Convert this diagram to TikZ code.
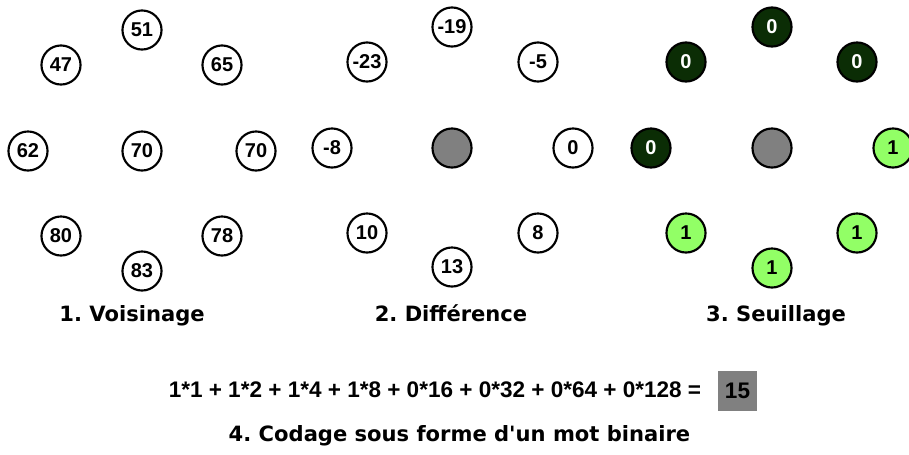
\documentclass[tikz,border=0pt]{standalone}
\usepackage{fontspec}
\setmainfont{Liberation Sans}
\newfontfamily\dejavu{DejaVu Sans}
\definecolor{darkg}{HTML}{0B2D05}
\definecolor{lightg}{HTML}{92FF66}
\definecolor{midgray}{HTML}{808080}
\frenchspacing
\begin{document}
\begin{tikzpicture}[x=0.75pt,y=-0.75pt,
  px/.style={circle,draw=black,line width=1.6pt,minimum size=29.3pt,inner sep=0pt,
    font=\fontsize{15}{16}\selectfont\bfseries},
  pxw/.style={px,fill=white},
  pxc/.style={px,fill=midgray},
  pxz/.style={px,fill=darkg,text=white},
  pxo/.style={px,fill=lightg},
  ttl/.style={anchor=base,inner sep=0pt,font=\dejavu\fontsize{15.8}{18}\selectfont\bfseries},
  eq/.style={anchor=base,inner sep=0pt,font=\fontsize{16.9}{19}\selectfont\bfseries},
  res/.style={fill=midgray,minimum width=29.25pt,minimum height=30pt,inner sep=0pt,
    font=\fontsize{16.9}{19}\selectfont\bfseries}]
\useasboundingbox (0,0) rectangle (909,454);
\clip (0,0) rectangle (909,454);
% panel 1
\node[pxw] (a1) at (142,30) {51};
\node[pxw] (a2) at (61,65) {47};
\node[pxw] (a3) at (222,65) {65};
\node[pxw] (a4) at (28,151) {62};
\node[pxw] (a0) at (142,151) {70};
\node[pxw] (a5) at (256,151) {70};
\node[pxw] (a6) at (61,236) {80};
\node[pxw] (a7) at (222,236) {78};
\node[pxw] (a8) at (142,271) {83};
\node[ttl] (t1) at (132,321) {1. Voisinage};
% panel 2
\node[pxw] (b1) at (452,27) {-19};
\node[pxw] (b2) at (367,62) {-23};
\node[pxw] (b3) at (538,62) {-5};
\node[pxw] (b4) at (332,148) {-8};
\node[pxc] (b0) at (452,148) {};
\node[pxw] (b5) at (573,148) {0};
\node[pxw] (b6) at (367,233) {10};
\node[pxw] (b7) at (538,233) {8};
\node[pxw] (b8) at (452,267) {13};
\node[ttl] (t2) at (451,321) {2. Différence};
% panel 3
\node[pxz] (c1) at (772,27) {0};
\node[pxz] (c2) at (686,62) {0};
\node[pxz] (c3) at (857,62) {0};
\node[pxz] (c4) at (651,148) {0};
\node[pxc] (c0) at (772,148) {};
\node[pxo] (c5) at (893,148) {1};
\node[pxo] (c6) at (686,233) {1};
\node[pxo] (c7) at (857,233) {1};
\node[pxo] (c8) at (772,268) {1};
\node[ttl] (t3) at (776,321) {3. Seuillage};
% coding
\node[eq] (eqn) at (435,397) {1*1 + 1*2 + 1*4 + 1*8 + 0*16 + 0*32 + 0*64 + 0*128 =};
\node[res] (r) at (737.5,391) {15};
\node[ttl] (t4) at (459.5,441) {4. Codage sous forme d'un mot binaire};
\end{tikzpicture}
\end{document}
